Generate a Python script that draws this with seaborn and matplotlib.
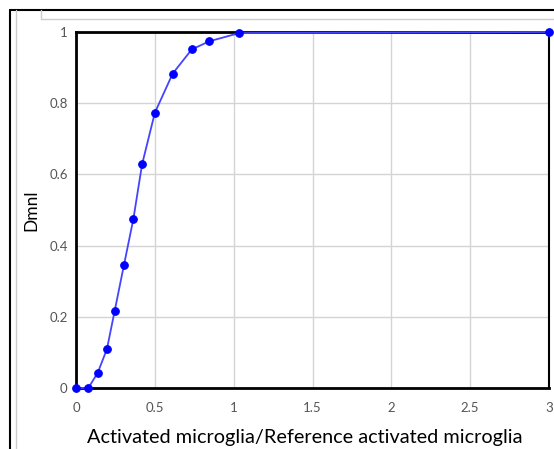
import matplotlib
matplotlib.use("Agg")
import matplotlib.pyplot as plt
from matplotlib.lines import Line2D
import seaborn as sns
import pandas as pd

ratio = [0, 0.078, 0.137, 0.196, 0.245, 0.304, 0.364, 0.419, 0.5, 0.613, 0.734, 0.846, 1.035, 3.0]
dmnl = [0, 0.0, 0.042, 0.109, 0.216, 0.345, 0.475, 0.628, 0.773, 0.883, 0.951, 0.974, 0.997, 1.0]
x_ticks = [0, 0.5, 1, 1.5, 2, 2.5, 3]
x_tick_labels = ["0", "0.5", "1", "1.5", "2", "2.5", "3"]
y_ticks = [0, 0.2, 0.4, 0.6, 0.8, 1]
y_tick_labels = ["0", "0.2", "0.4", "0.6", "0.8", "1"]

df = pd.DataFrame({"x": ratio, "y": dmnl})

sns.set_style("white")
plt.rcParams["font.family"] = ["Lato", "DejaVu Sans"]

fig = plt.figure(figsize=(5.54, 4.49), dpi=100)
ax = fig.add_axes([76 / 554, 1 - 388 / 449, (549 - 76) / 554, (388 - 32) / 449])

sns.lineplot(data=df, x="x", y="y", ax=ax, color="#4444ff", linewidth=1.3,
             marker="o", markersize=5.5, markerfacecolor="#0000ff",
             markeredgecolor="#0000ff", clip_on=False, zorder=5)

ax.set_xlim(0, 3)
ax.set_ylim(0, 1)
ax.set_xticks(x_ticks)
ax.set_xticklabels(x_tick_labels)
ax.set_yticks(y_ticks)
ax.set_yticklabels(y_tick_labels)
ax.grid(True, color="#d4d4d4", linewidth=1.0)
ax.set_axisbelow(True)
for s in ["left", "bottom", "top"]:
    ax.spines[s].set_color("black")
    ax.spines[s].set_linewidth(2.0)
ax.spines["right"].set_color("black")
ax.spines["right"].set_linewidth(1.5)
ax.tick_params(axis="both", labelsize=9.5, labelcolor="#555555", length=2,
               color="#888888")
ax.tick_params(axis="x", pad=8)
ax.tick_params(axis="y", pad=4)
ax.set_xlabel("Activated microglia/Reference activated microglia", fontsize=14.3,
              color="black", va="center")
ax.set_ylabel("Dmnl", fontsize=12.5, color="black", va="center")
ax.xaxis.set_label_coords((305 - 76) / 473, (388 - 438) / 356)
ax.yaxis.set_label_coords((31 - 76) / 473, (388 - 210) / 356)

# window frame decorations
fig.add_artist(Line2D([10 / 554, 1], [1 - 10 / 449, 1 - 10 / 449], color="black", linewidth=1.5))
fig.add_artist(Line2D([10 / 554, 10 / 554], [0, 1 - 10 / 449], color="black", linewidth=1.5))
fig.add_artist(Line2D([41 / 554, 1], [1 - 19 / 449, 1 - 19 / 449], color="#cccccc", linewidth=1.0))
fig.add_artist(Line2D([41 / 554, 41 / 554], [1 - 19 / 449, 1 - 10 / 449], color="#cccccc", linewidth=1.0))
fig.add_artist(Line2D([16 / 554, 16 / 554], [0, 1 - 10 / 449], color="#cccccc", linewidth=1.0))

fig.savefig("out.png", dpi=100)
